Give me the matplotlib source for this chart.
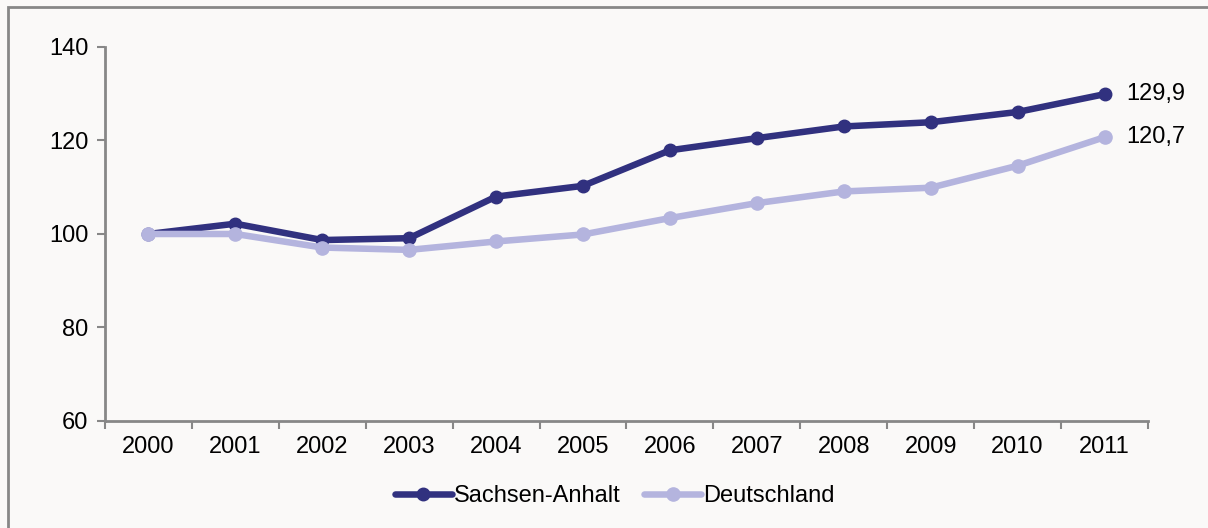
import numpy as np
import matplotlib.pyplot as plt
from matplotlib.patches import Rectangle

plt.rcParams['font.family'] = ['Liberation Sans', 'DejaVu Sans']

years = ['2000', '2001', '2002', '2003', '2004', '2005',
         '2006', '2007', '2008', '2009', '2010', '2011']
sachsen_anhalt = [100.0, 102.2, 98.7, 99.1, 108.0, 110.3,
                  117.9, 120.5, 123.0, 123.9, 126.1, 129.9]
deutschland = [100.0, 100.0, 97.1, 96.6, 98.4, 99.9,
               103.4, 106.6, 109.1, 109.9, 114.6, 120.7]
end_labels = ['129,9', '120,7']

dark = '#31317f'
light = '#b4b4de'
grey = '#878787'
bg = '#faf9f8'
fs = 17

fig = plt.figure(figsize=(12.08, 5.28), dpi=100, facecolor=bg)
ax = fig.add_axes([0.0869, 0.2027, 0.8634, 0.7083], facecolor=bg)

# frame around the whole chart (only top/left edges are visible in the original)
fig.patches.append(Rectangle((8 / 1208, -0.1), 1.2, 1 - 7.5 / 528 + 0.1,
                             transform=fig.transFigure, fill=False,
                             edgecolor=grey, linewidth=2, zorder=0))

x = np.arange(len(years))
ax.plot(x, sachsen_anhalt, color=dark, lw=4.7, marker='o', ms=9,
        label='Sachsen-Anhalt', solid_capstyle='round', zorder=3)
ax.plot(x, deutschland, color=light, lw=4.7, marker='o', ms=9.5,
        label='Deutschland', solid_capstyle='round', zorder=4)

ax.text(x[-1] + 0.25, sachsen_anhalt[-1], end_labels[0], fontsize=fs,
        va='center', ha='left')
ax.text(x[-1] + 0.25, deutschland[-1], end_labels[1], fontsize=fs,
        va='center', ha='left')

ax.set_xlim(-0.5, len(years) - 0.5)
ax.set_ylim(60, 140)
ax.set_yticks([60, 80, 100, 120, 140])
ax.set_xticks(x)
ax.set_xticklabels(years)
ax.set_xticks(np.arange(-0.5, len(years)), minor=True)

for s in ['top', 'right']:
    ax.spines[s].set_visible(False)
for s in ['left', 'bottom']:
    ax.spines[s].set_color(grey)
    ax.spines[s].set_linewidth(2)

ax.tick_params(axis='y', length=6, width=1.5, color=grey, labelsize=fs, pad=6)
ax.tick_params(axis='x', which='major', length=0, labelsize=fs, pad=11)
ax.tick_params(axis='x', which='minor', length=6, width=1.5, color=grey)

ax.legend(loc='center', bbox_to_anchor=(615 / 1208, 1 - 496 / 528),
          bbox_transform=fig.transFigure, ncol=2, frameon=False,
          fontsize=fs, handlelength=2.4, handletextpad=0.1,
          columnspacing=1.0, borderaxespad=0)

fig.savefig('out.png', dpi=100, facecolor=bg)
